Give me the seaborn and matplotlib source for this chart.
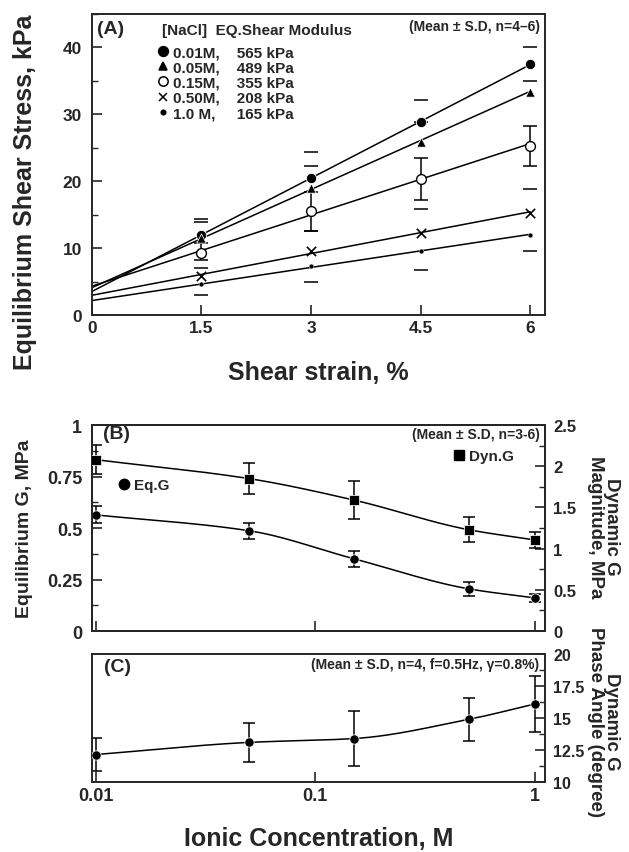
import numpy as np
import matplotlib
matplotlib.use("Agg")
import matplotlib.pyplot as plt
from matplotlib.lines import Line2D
from matplotlib.ticker import MultipleLocator, NullLocator
import seaborn as sns

# ---- (A) equilibrium shear stress vs strain ----
strain = [1.5, 3.0, 4.5, 6.0]
nacl = ["0.01M", "0.05M", "0.15M", "0.50M", "1.0 M"]
modulus_kpa = [565, 489, 355, 208, 165]

stress_001 = [12.0, 20.5, 28.8, 37.5]
stress_005 = [11.5, 19.0, 25.8, 33.4]
stress_015 = [9.3, 15.5, 20.4, 25.3]
stress_050 = [5.9, 9.6, 12.2, 15.3]
stress_100 = [4.6, 7.3, 9.6, 11.9]

# one-sided bars as drawn in the figure (nan = no bar on that side)
up_001 = [2.3, 3.8, 3.3, 2.5]
up_005 = [2.4, 3.2, 3.0, 1.6]
up_015 = [1.4, 2.9, 3.1, 3.0]
up_050 = [1.2, 3.0, 3.6, 3.6]
up_100 = [np.nan, np.nan, np.nan, np.nan]
lo_001 = [np.nan, np.nan, np.nan, np.nan]
lo_005 = [np.nan, np.nan, np.nan, np.nan]
lo_015 = [1.1, 2.9, 3.2, 3.0]
lo_050 = [np.nan, np.nan, np.nan, np.nan]
lo_100 = [1.6, 2.3, 2.9, 2.3]

# ---- (B) and (C) vs ionic concentration ----
conc = [0.01, 0.05, 0.15, 0.5, 1.0]
eq_g = [0.564, 0.487, 0.351, 0.205, 0.161]
eq_g_sd = [0.041, 0.038, 0.038, 0.035, 0.019]
dyn_g = [2.08, 1.85, 1.59, 1.23, 1.106]
dyn_g_sd = [0.175, 0.185, 0.235, 0.155, 0.10]
phase = [12.15, 13.1, 13.4, 14.9, 16.1]
phase_sd = [1.3, 1.55, 2.15, 1.7, 2.15]

sns.set_style("ticks")
plt.rcParams["font.family"] = ["Liberation Sans", "DejaVu Sans"]
plt.rcParams["font.weight"] = "bold"
plt.rcParams["axes.labelweight"] = "bold"
plt.rcParams["axes.linewidth"] = 1.4

fig = plt.figure(figsize=(6.29, 8.53), dpi=100)
ax_a = fig.add_axes([0.146, 0.6295, 0.720, 0.353])
ax_b = fig.add_axes([0.146, 0.259, 0.720, 0.2415])
ax_c = fig.add_axes([0.146, 0.082, 0.720, 0.150])


def style_ticks(ax, size=12, **kw):
    ax.tick_params(which="major", direction="in", length=7, width=1.2, labelsize=size, **kw)
    ax.tick_params(which="minor", direction="in", length=4, width=1.0, **kw)


# ---- panel A ----
series_a = [stress_001, stress_005, stress_015, stress_050, stress_100]
ups = [up_001, up_005, up_015, up_050, up_100]
los = [lo_001, lo_005, lo_015, lo_050, lo_100]
marker_styles = [
    dict(marker="o", s=55, color="black"),
    dict(marker="^", s=45, color="black"),
    dict(marker="o", s=50, facecolor="white", edgecolor="black", linewidth=1),
    dict(marker="x", s=45, color="black", linewidth=1.2),
    dict(marker="o", s=12, color="black"),
]
x = np.array(strain)
xs_line = np.linspace(0, 6, 50)
handles, labels = [], []
for y, up, lo, mod, name, st in zip(series_a, ups, los, modulus_kpa, nacl, marker_styles):
    y = np.array(y)
    slope = mod / 100.0
    icpt = np.mean(y - slope * x)
    sns.lineplot(x=xs_line, y=icpt + slope * xs_line, ax=ax_a, color="black", lw=1.1)
    ax_a.errorbar(x, y, yerr=[lo, up], fmt="none", ecolor="black", elinewidth=1.1,
                  capsize=5, capthick=1.1)
    sns.scatterplot(x=x, y=y, ax=ax_a, zorder=5, **st)
    handles.append(Line2D([], [], linestyle="none", marker=st["marker"],
                          markersize=np.sqrt(st["s"]) * 0.95,
                          markerfacecolor=st.get("facecolor", "black"),
                          markeredgecolor="black", markeredgewidth=1.1))
    gap = "     " if " " in name else "    "
    labels.append(f"{name},{gap}{mod} kPa")

ax_a.set_xlim(0, 6.2)
ax_a.set_ylim(0, 45)
ax_a.set_xticks([0, 1.5, 3, 4.5, 6], labels=["0", "1.5", "3", "4.5", "6"])
ax_a.set_yticks([0, 10, 20, 30, 40], labels=["0", "10", "20", "30", "40"])
ax_a.yaxis.set_minor_locator(MultipleLocator(5))
style_ticks(ax_a, size=12.5)
ax_a.tick_params(axis="y", pad=7)
ax_a.legend(handles, labels, loc="upper left", bbox_to_anchor=(0.143, 0.896),
            frameon=False, fontsize=11, handletextpad=0.3, handlelength=0.8,
            labelspacing=0.08, borderpad=0, borderaxespad=0)
ax_a.text(0.155, 0.947, "[NaCl]  EQ.Shear Modulus", transform=ax_a.transAxes,
          ha="left", va="center", fontsize=11)
ax_a.text(0.012, 0.953, "(A)", transform=ax_a.transAxes, ha="left", va="center", fontsize=14)
ax_a.text(0.989, 0.96, "(Mean \u00b1 S.D, n=4\u20136)", transform=ax_a.transAxes,
          ha="right", va="center", fontsize=10)
ax_a.set_xlabel("Shear strain, %", fontsize=18)
ax_a.set_ylabel("Equilibrium Shear Stress, kPa", fontsize=18)


def smooth_curve(ax, xv, yv, n=150):
    # monotone cubic (Fritsch-Carlson) through the points, in log10(x)
    lx = np.log10(np.asarray(xv, float))
    yy = np.asarray(yv, float)
    h = np.diff(lx)
    d = np.diff(yy) / h
    m = np.empty_like(yy)
    m[0], m[-1] = d[0], d[-1]
    for k in range(1, len(yy) - 1):
        if d[k - 1] * d[k] <= 0:
            m[k] = 0.0
        else:
            w1, w2 = 2 * h[k] + h[k - 1], h[k] + 2 * h[k - 1]
            m[k] = (w1 + w2) / (w1 / d[k - 1] + w2 / d[k])
    grid = np.linspace(lx[0], lx[-1], n)
    idx = np.clip(np.searchsorted(lx, grid) - 1, 0, len(h) - 1)
    t = (grid - lx[idx]) / h[idx]
    h00 = 2 * t**3 - 3 * t**2 + 1
    h10 = t**3 - 2 * t**2 + t
    h01 = -2 * t**3 + 3 * t**2
    h11 = t**3 - t**2
    curve = (h00 * yy[idx] + h10 * h[idx] * m[idx]
             + h01 * yy[idx + 1] + h11 * h[idx] * m[idx + 1])
    sns.lineplot(x=10 ** grid, y=curve, ax=ax, color="black", lw=1.1)


# ---- panel B ----
ax_b2 = ax_b.twinx()
for ax in (ax_b, ax_b2, ax_c):
    ax.set_xscale("log")
    ax.set_xlim(0.0096, 1.11)

smooth_curve(ax_b, conc, eq_g)
ax_b.errorbar(conc, eq_g, yerr=eq_g_sd, fmt="none", ecolor="black", elinewidth=1.1,
              capsize=4.5, capthick=1.1)
sns.scatterplot(x=conc, y=eq_g, ax=ax_b, marker="o", s=45, color="black", zorder=5)
smooth_curve(ax_b2, conc, dyn_g)
ax_b2.errorbar(conc, dyn_g, yerr=dyn_g_sd, fmt="none", ecolor="black", elinewidth=1.1,
               capsize=4.5, capthick=1.1)
sns.scatterplot(x=conc, y=dyn_g, ax=ax_b2, marker="s", s=42, color="black", zorder=5)

ax_b.set_ylim(0, 1)
ax_b.set_yticks([0, 0.25, 0.5, 0.75, 1], labels=["0", "0.25", "0.5", "0.75", "1"])
ax_b.yaxis.set_minor_locator(MultipleLocator(0.125))
ax_b2.set_ylim(0, 2.5)
ax_b2.set_yticks([0, 0.5, 1, 1.5, 2, 2.5], labels=["0", "0.5", "1", "1.5", "2", "2.5"])
ax_b2.yaxis.set_minor_locator(MultipleLocator(0.25))
for ax in (ax_b, ax_b2, ax_c):
    ax.set_xticks([0.01, 0.1, 1], labels=["0.01", "0.1", "1"])
    ax.xaxis.set_minor_locator(NullLocator())
style_ticks(ax_b, size=13)
style_ticks(ax_b2, size=12)
ax_b.tick_params(axis="y", pad=7)
ax_b2.tick_params(axis="y", pad=6)
ax_b.tick_params(labelbottom=False)
ax_b2.tick_params(labelbottom=False)

eq_h = Line2D([], [], linestyle="none", marker="o", markersize=7.5, color="black")
dyn_h = Line2D([], [], linestyle="none", marker="s", markersize=7.5, color="black")
ax_b.legend([eq_h], ["Eq.G"], loc="center left", bbox_to_anchor=(0.058, 0.709),
            frameon=False, fontsize=11, handletextpad=0.25, handlelength=0.8,
            borderpad=0, borderaxespad=0)
ax_b2.legend([dyn_h], ["Dyn.G"], loc="center left", bbox_to_anchor=(0.797, 0.85),
             frameon=False, fontsize=11, handletextpad=0.25, handlelength=0.8,
             borderpad=0, borderaxespad=0)
ax_b.text(0.024, 0.958, "(B)", transform=ax_b.transAxes, ha="left", va="center", fontsize=14)
ax_b.text(0.989, 0.956, "(Mean \u00b1 S.D, n=3-6)", transform=ax_b.transAxes,
          ha="right", va="center", fontsize=10)
ax_b.set_ylabel("Equilibrium G, MPa", fontsize=14)
ax_b2.set_ylabel("Dynamic G\nMagnitude, MPa", fontsize=13.5, rotation=-90,
                 linespacing=0.95)

# ---- panel C ----
smooth_curve(ax_c, conc, phase)
ax_c.errorbar(conc, phase, yerr=phase_sd, fmt="none", ecolor="black", elinewidth=1.1,
              capsize=4.5, capthick=1.1)
sns.scatterplot(x=conc, y=phase, ax=ax_c, marker="o", s=45, color="black", zorder=5)
ax_c.set_ylim(10, 20)
ax_c.yaxis.tick_right()
ax_c.yaxis.set_label_position("right")
ax_c.set_yticks([10, 12.5, 15, 17.5, 20], labels=["10", "12.5", "15", "17.5", "20"])
ax_c.yaxis.set_minor_locator(MultipleLocator(1.25))
style_ticks(ax_c, size=13)
ax_c.tick_params(axis="y", labelsize=11.5, pad=6)
ax_c.text(0.026, 0.9, "(C)", transform=ax_c.transAxes, ha="left", va="center", fontsize=14)
ax_c.text(0.987, 0.92, "(Mean \u00b1 S.D, n=4, f=0.5Hz, \u03b3=0.8%)",
          transform=ax_c.transAxes, ha="right", va="center", fontsize=10)
ax_c.set_ylabel("Dynamic G\nPhase Angle (degree)", fontsize=13.5, rotation=-90,
                linespacing=0.95)
ax_c.set_xlabel("Ionic Concentration, M", fontsize=18)

# label placement (axes-fraction centres)
for axis, xy in [
    (ax_a.yaxis, (-0.148, 0.41)),
    (ax_a.xaxis, (0.5, -0.19)),
    (ax_b.yaxis, (-0.148, 0.5)),
    (ax_b2.yaxis, (1.13, 0.51)),
    (ax_c.yaxis, (1.13, 0.48)),
    (ax_c.xaxis, (0.5, -0.44)),
]:
    axis.label.set(rotation_mode="default", ha="center", va="center")
    axis.set_label_coords(*xy)

fig.savefig("out.png", dpi=100)
